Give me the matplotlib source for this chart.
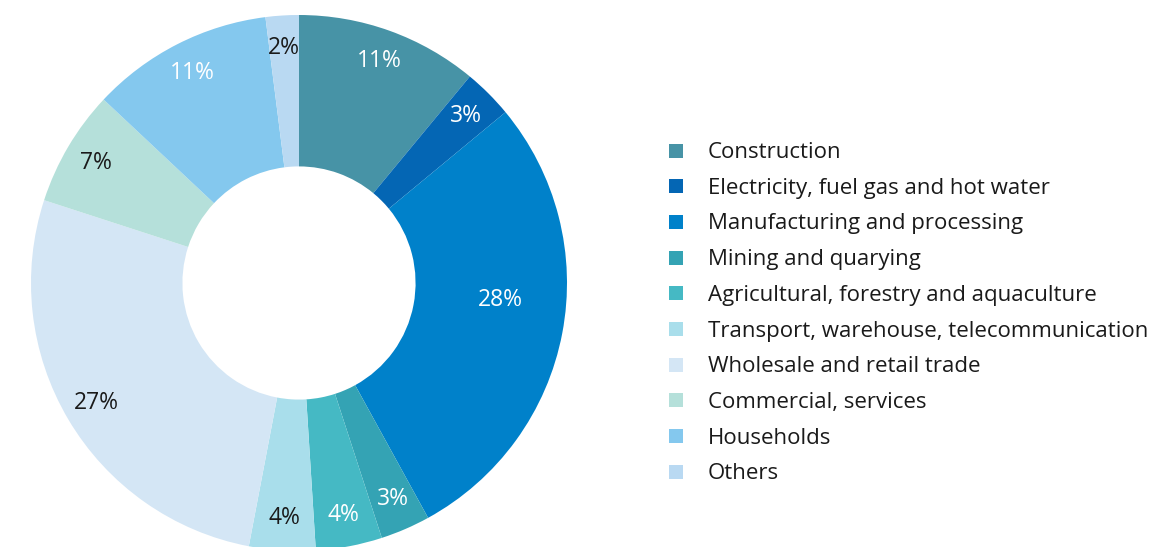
import matplotlib
matplotlib.use("Agg")
import matplotlib.pyplot as plt
from matplotlib.patches import Rectangle
import numpy as np

plt.rcParams['font.family'] = ['Open Sans', 'DejaVu Sans']

categories = ["Construction", "Electricity, fuel gas and hot water",
              "Manufacturing and processing", "Mining and quarying",
              "Agricultural, forestry and aquaculture",
              "Transport, warehouse, telecommunication",
              "Wholesale and retail trade", "Commercial, services",
              "Households", "Others"]
values = [11, 3, 28, 3, 4, 4, 27, 7, 11, 2]
colors = ["#4793A6", "#0466B4", "#0081CA", "#34A3B4", "#45B9C4",
          "#A9DEEB", "#D4E6F5", "#B5E0DA", "#84C8EE", "#B9D9F2"]
label_colors = ["white", "white", "white", "white", "white",
                "#1a1a1a", "#1a1a1a", "#1a1a1a", "white", "#1a1a1a"]

W, H = 1176, 547
fig = plt.figure(figsize=(W / 100, H / 100), dpi=100)

cx, cy, R = 299, 283, 268
ax = fig.add_axes([(cx - R) / W, (H - cy - R) / H, 2 * R / W, 2 * R / H])
wedges, _ = ax.pie(values, colors=colors, startangle=90, counterclock=False,
                   radius=1.0, wedgeprops=dict(width=0.565, linewidth=0))
ax.set_xlim(-1, 1)
ax.set_ylim(-1, 1)
ax.set_aspect('equal')
ax.axis('off')

total = sum(values)
cum = 0
for i, v in enumerate(values):
    mid = 90 - (cum + v / 2) / total * 360
    cum += v
    r = 0.88
    if i == 2:
        r, mid = 0.755, mid + 6
    ang = np.deg2rad(mid)
    ax.text(r * np.cos(ang), r * np.sin(ang), f"{v}%", ha='center', va='center',
            fontsize=16.5, color=label_colors[i])

# legend
y0, dy = 152.5, 35.7
for i, (lab, c) in enumerate(zip(categories, colors)):
    y = y0 + i * dy
    fig.patches.append(Rectangle((669 / W, (H - y - 5) / H), 14 / W, 14 / H,
                                 transform=fig.transFigure, facecolor=c,
                                 edgecolor='none'))
    fig.text(708 / W, (H - y) / H, lab, ha='left', va='center', fontsize=16,
             color='#1a1a1a')

fig.savefig("out.png", dpi=100, facecolor='white')
